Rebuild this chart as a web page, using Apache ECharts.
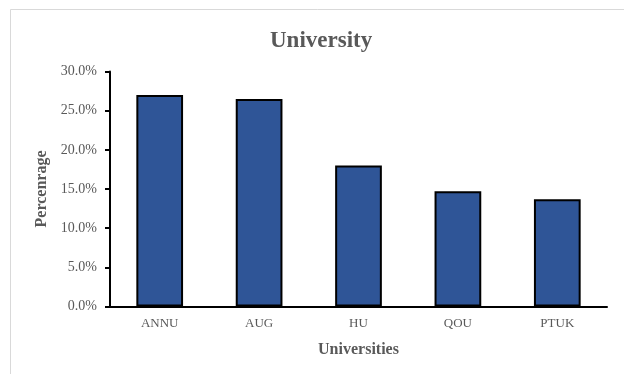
<!DOCTYPE html>
<html>
<head>
<meta charset="utf-8">
<style>
  html, body { margin: 0; padding: 0; background: #fff; }
  #chart { width: 624px; height: 374px; }
</style>
<script src="https://cdn.jsdelivr.net/npm/echarts@6/dist/echarts.min.js"></script>
</head>
<body>
<div id="chart"></div>
<script>
// data
const universities = ["ANNU", "AUG", "HU", "QOU", "PTUK"];
const percentages = [27.0, 26.5, 18.0, 14.7, 13.7];
const yTicks = { min: 0, max: 30, interval: 5 };

const serif = "'Liberation Serif', 'DejaVu Serif', serif";
const grey = "#595959";

const chart = echarts.init(document.getElementById("chart"));

chart.setOption({
  animation: false,
  backgroundColor: "#fff",
  graphic: [
    {
      type: "rect",
      shape: { x: 10.5, y: 9.5, width: 640, height: 400 },
      style: { fill: "none", stroke: "#d9d9d9", lineWidth: 1 },
      silent: true
    }
  ],
  title: {
    text: "University",
    left: 265,
    top: 25,
    textStyle: { fontFamily: serif, fontSize: 23, fontWeight: "bold", color: grey }
  },
  grid: { left: 110, right: 17, top: 71.5, bottom: 67.5 },
  xAxis: {
    type: "category",
    data: universities,
    name: "Universities",
    nameLocation: "middle",
    nameGap: 35,
    nameTextStyle: { fontFamily: serif, fontSize: 16, fontWeight: "bold", color: grey },
    axisLine: { lineStyle: { color: "#000", width: 2 } },
    axisTick: { show: false },
    axisLabel: { fontFamily: serif, fontSize: 13, color: grey, margin: 11 }
  },
  yAxis: {
    type: "value",
    min: yTicks.min,
    max: yTicks.max,
    interval: yTicks.interval,
    name: "Percenrage",
    nameLocation: "middle",
    nameGap: 57,
    nameRotate: 90,
    nameTextStyle: { fontFamily: serif, fontSize: 16, fontWeight: "bold", color: grey },
    axisLine: { show: true, lineStyle: { color: "#000", width: 2 } },
    axisTick: { show: true, length: 5, lineStyle: { color: "#000", width: 2 } },
    splitLine: { show: false },
    axisLabel: {
      fontFamily: serif,
      fontSize: 14,
      color: grey,
      margin: 13,
      formatter: (v) => v.toFixed(1) + "%"
    }
  },
  series: [
    {
      type: "bar",
      data: percentages,
      barWidth: "47%",
      itemStyle: { color: "#2F5597", borderColor: "#000", borderWidth: 2 }
    }
  ]
});
</script>
</body>
</html>
